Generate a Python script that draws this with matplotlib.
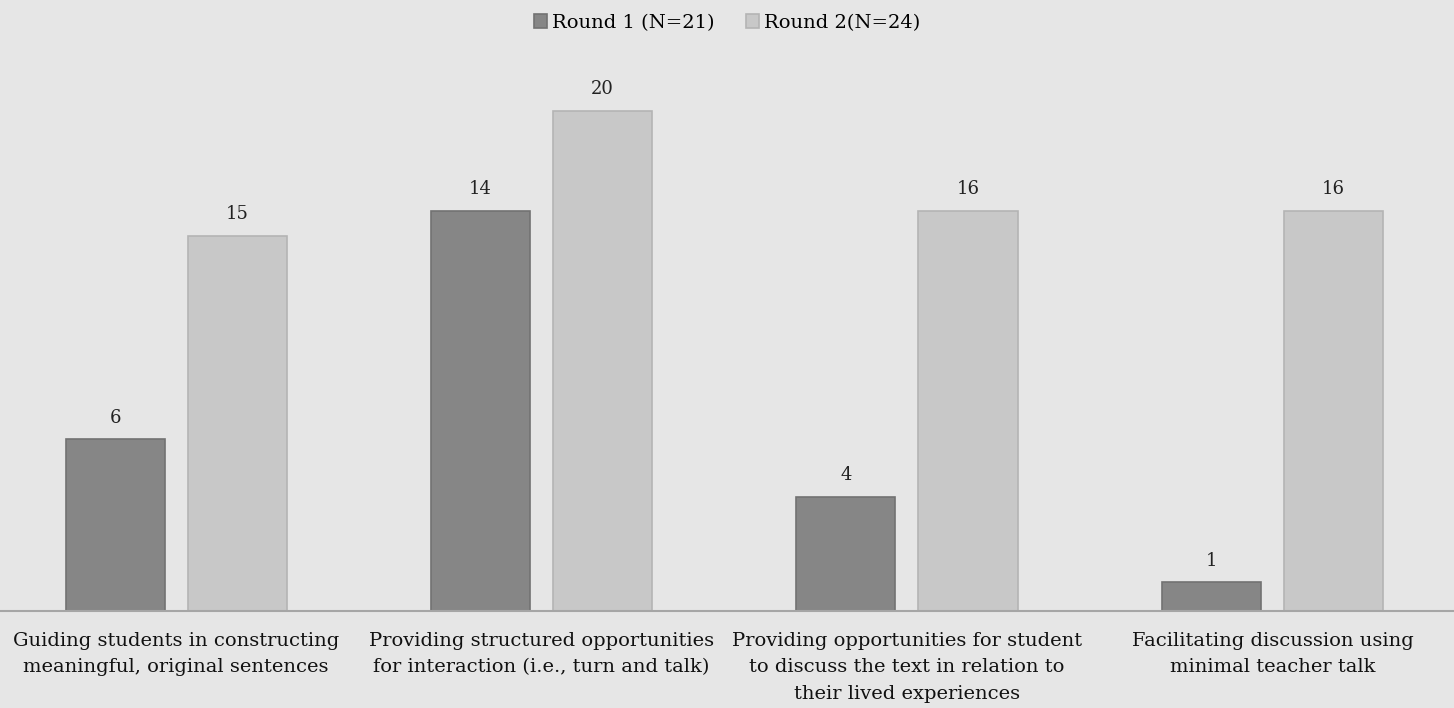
import numpy as np
import matplotlib
matplotlib.use("Agg")
import matplotlib.pyplot as plt

# survey data: counts of teachers per practice, per round
categories = [
    "Guiding students in constructing\nmeaningful, original sentences",
    "Providing structured opportunities\nfor interaction (i.e., turn and talk)",
    "Providing opportunities for student\nto discuss the text in relation to\ntheir lived experiences",
    "Facilitating discussion using\nminimal teacher talk",
]
round1_counts = [6, 14, 4, 1]
round2_counts = [15, 20, 16, 16]
round1_n = 21
round2_n = 24
series_labels = ["Round 1 (N=21)", "Round 2(N=24)"]

# bar heights are share of respondents, labels show raw counts
round1_share = np.array(round1_counts) / round1_n
round2_share = np.array(round2_counts) / round2_n

plt.rcParams['font.family'] = ['DejaVu Serif']
bg = '#e6e6e6'

fig = plt.figure(figsize=(14.54, 7.08), dpi=100, facecolor=bg)
ax = fig.add_axes([0, 0.137, 1, 0.848])
ax.set_facecolor(bg)

x = np.arange(len(categories))
w = 0.271
off = (w + 0.063) / 2
b1 = ax.bar(x - off, round1_share, w, color='#868686', edgecolor='#727272',
            linewidth=1.2, label=series_labels[0])
b2 = ax.bar(x + off, round2_share, w, color='#c8c8c8', edgecolor='#b4b4b4',
            linewidth=1.2, label=series_labels[1])

for bars, counts in [(b1, round1_counts), (b2, round2_counts)]:
    for rect, c in zip(bars, counts):
        ax.annotate(str(c), (rect.get_x() + rect.get_width() / 2, rect.get_height()),
                    xytext=(0, 9), textcoords='offset points', ha='center',
                    va='bottom', fontsize=13, color='#222222')

ax.set_xlim(-0.482, 3.497)
ax.set_ylim(0, 1)
ax.set_yticks([])
ax.set_xticks(x)
ax.set_xticklabels(categories, fontsize=14, color='#111111', linespacing=1.6)
ax.tick_params(axis='x', length=0, pad=15)
for s in ['top', 'left', 'right']:
    ax.spines[s].set_visible(False)
ax.spines['bottom'].set_color('#a6a6a6')
ax.spines['bottom'].set_linewidth(1.5)

leg = fig.legend(loc='upper center', bbox_to_anchor=(0.5, 1.005), ncol=2, frameon=False,
                 fontsize=14, handlelength=0.7, handleheight=0.7, handletextpad=0.25,
                 columnspacing=1.6)

fig.savefig('out.png', dpi=100, facecolor=bg)
